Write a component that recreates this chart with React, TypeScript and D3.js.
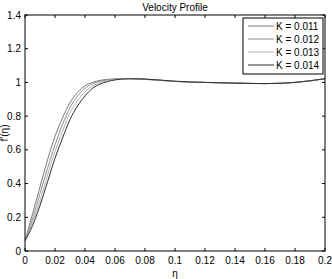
import React from "react";
import * as d3 from "d3";

// eta values (x axis)
const etas = [0, 0.005, 0.01, 0.015, 0.02, 0.025, 0.03, 0.035, 0.04, 0.045, 0.05, 0.055, 0.06, 0.07, 0.08, 0.09, 0.1, 0.12, 0.14, 0.16, 0.18, 0.2];

const seriesNames = ["K = 0.011", "K = 0.012", "K = 0.013", "K = 0.014"];
const k011 = [0.06, 0.22, 0.38, 0.54, 0.68, 0.79, 0.88, 0.94, 0.98, 1.0, 1.012, 1.018, 1.021, 1.022, 1.018, 1.012, 1.006, 1.0, 0.996, 0.993, 1.0, 1.022];
const k012 = [0.06, 0.19, 0.34, 0.49, 0.63, 0.75, 0.85, 0.92, 0.965, 0.992, 1.007, 1.015, 1.02, 1.022, 1.019, 1.013, 1.006, 1.0, 0.996, 0.993, 1.0, 1.022];
const k013 = [0.06, 0.17, 0.3, 0.45, 0.59, 0.71, 0.82, 0.89, 0.945, 0.978, 0.999, 1.011, 1.018, 1.023, 1.02, 1.013, 1.007, 1.0, 0.996, 0.993, 1.0, 1.022];
const k014 = [0.06, 0.15, 0.27, 0.41, 0.55, 0.67, 0.78, 0.86, 0.92, 0.965, 0.99, 1.005, 1.015, 1.022, 1.02, 1.014, 1.007, 1.0, 0.996, 0.993, 1.0, 1.022];
const allSeries = [k011, k012, k013, k014];
const colors = ["#7a7a7a", "#8e8e8e", "#b0b0b0", "#2e2e2e"];

const xTicks = [0, 0.02, 0.04, 0.06, 0.08, 0.1, 0.12, 0.14, 0.16, 0.18, 0.2];
const yTicks = [0, 0.2, 0.4, 0.6, 0.8, 1, 1.2, 1.4];

export default function App() {
  const width = 332, height = 279;
  const left = 25, right = 325, top = 15, bottom = 251;
  const x = d3.scaleLinear().domain([0, 0.2]).range([left, right]);
  const y = d3.scaleLinear().domain([0, 1.4]).range([bottom, top]);
  const line = d3.line<number>()
    .x((d, i) => x(etas[i]))
    .y(d => y(d))
    .curve(d3.curveMonotoneX);
  const font = "'Liberation Sans', Arial, sans-serif";
  const tl = 3;

  return (
    <svg width={width} height={height} style={{ position: "absolute", left: 0, top: 0 }} fontFamily={font}>
      <rect x={0} y={0} width={width} height={height} fill="#fff" />
      <defs>
        <clipPath id="plotclip"><rect x={left} y={top} width={right - left} height={bottom - top} /></clipPath>
      </defs>
      <g clipPath="url(#plotclip)">
        {allSeries.map((s, i) => (
          <path key={i} d={line(s) || ""} fill="none" stroke={colors[i]} strokeWidth={1} />
        ))}
      </g>
      <rect x={left} y={top} width={right - left} height={bottom - top} fill="none" stroke="#000" strokeWidth={1} />
      {xTicks.map((t, i) => (
        <g key={"x" + i}>
          <line x1={x(t)} x2={x(t)} y1={bottom} y2={bottom - tl} stroke="#000" />
          <line x1={x(t)} x2={x(t)} y1={top} y2={top + tl} stroke="#000" />
          <text x={x(t)} y={bottom + 13} fontSize={10} textAnchor="middle">{t}</text>
        </g>
      ))}
      {yTicks.map((t, i) => (
        <g key={"y" + i}>
          <line x1={left} x2={left + tl} y1={y(t)} y2={y(t)} stroke="#000" />
          <line x1={right} x2={right - tl} y1={y(t)} y2={y(t)} stroke="#000" />
          <text x={left - 4} y={y(t) + 3.5} fontSize={10} textAnchor="end">{t}</text>
        </g>
      ))}
      <text x={(left + right) / 2} y={11} fontSize={10} textAnchor="middle">Velocity Profile</text>
      <text x={(left + right) / 2} y={bottom + 26} fontSize={10} textAnchor="middle">η</text>
      <text transform={`translate(8,${(top + bottom) / 2}) rotate(-90)`} fontSize={10} textAnchor="middle">f'(η)</text>
      <g>
        <rect x={243} y={18} width={80} height={56} fill="#fff" stroke="#000" strokeWidth={1} />
        {seriesNames.map((n, i) => {
          const cy = 26 + i * 13;
          return (
            <g key={n}>
              <line x1={248} x2={274} y1={cy} y2={cy} stroke={colors[i]} strokeWidth={1} />
              <text x={276} y={cy + 3.5} fontSize={10}>{n}</text>
            </g>
          );
        })}
      </g>
    </svg>
  );
}
